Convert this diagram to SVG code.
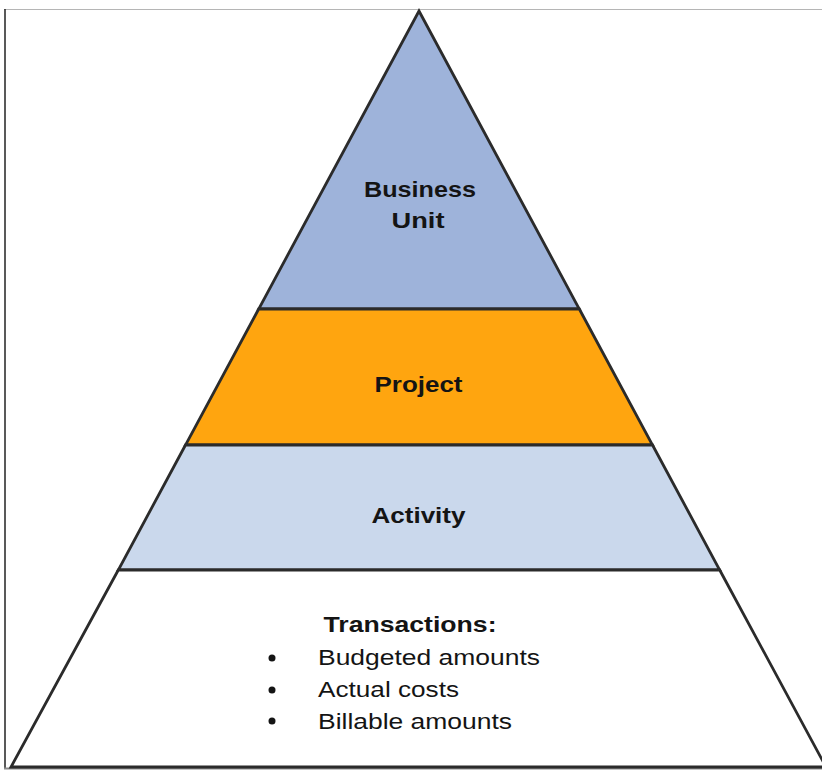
<svg xmlns="http://www.w3.org/2000/svg" width="822" height="770" viewBox="0 0 822 770">
<style>
.band{stroke:#2b2b2b;stroke-width:2.8;stroke-linejoin:miter}
.lbl{font-family:"Liberation Sans",Arial,sans-serif;font-weight:bold;font-size:22px;fill:#141414;text-anchor:middle}
.item{font-family:"Liberation Sans",Arial,sans-serif;font-size:22px;fill:#141414}
.bul{fill:#141414}
</style>
<rect x="0" y="0" width="822" height="770" fill="#ffffff"/>
<g id="frame">
<line x1="4" y1="9.5" x2="822" y2="9.5" stroke="#b5b5b5" stroke-width="1.2"/>
<line x1="5" y1="9" x2="5" y2="769" stroke="#222" stroke-width="1.5"/>
<line x1="4" y1="768.5" x2="822" y2="768.5" stroke="#8a8a8a" stroke-width="2"/>
</g>
<g id="business-unit">
<polygon class="band" points="419,11 579.3,309 258.7,309" fill="#9EB3DA"/>
<text class="lbl" x="420" y="197" textLength="112" lengthAdjust="spacingAndGlyphs">Business</text>
<text class="lbl" x="418" y="228" textLength="53" lengthAdjust="spacingAndGlyphs">Unit</text>
</g>
<g id="project">
<polygon class="band" points="258.7,309 579.3,309 652.5,445 185.5,445" fill="#FFA50F"/>
<text class="lbl" x="418.5" y="392" textLength="88" lengthAdjust="spacingAndGlyphs">Project</text>
</g>
<g id="activity">
<polygon class="band" points="185.5,445 652.5,445 719.7,570 118.3,570" fill="#CAD8EC"/>
<text class="lbl" x="418.5" y="523" textLength="94" lengthAdjust="spacingAndGlyphs">Activity</text>
</g>
<g id="transactions">
<polygon class="band" points="118.3,570 719.7,570 826,767 11,767" fill="#ffffff"/>
<text class="lbl" x="410" y="632" textLength="173" lengthAdjust="spacingAndGlyphs">Transactions:</text>
<circle class="bul" cx="272" cy="658" r="3.5"/>
<circle class="bul" cx="272" cy="690" r="3.5"/>
<circle class="bul" cx="272" cy="721" r="3.5"/>
<text class="item" x="318" y="665" textLength="222" lengthAdjust="spacingAndGlyphs">Budgeted amounts</text>
<text class="item" x="318" y="697" textLength="141" lengthAdjust="spacingAndGlyphs">Actual costs</text>
<text class="item" x="318" y="729" textLength="194" lengthAdjust="spacingAndGlyphs">Billable amounts</text>
</g>
</svg>
